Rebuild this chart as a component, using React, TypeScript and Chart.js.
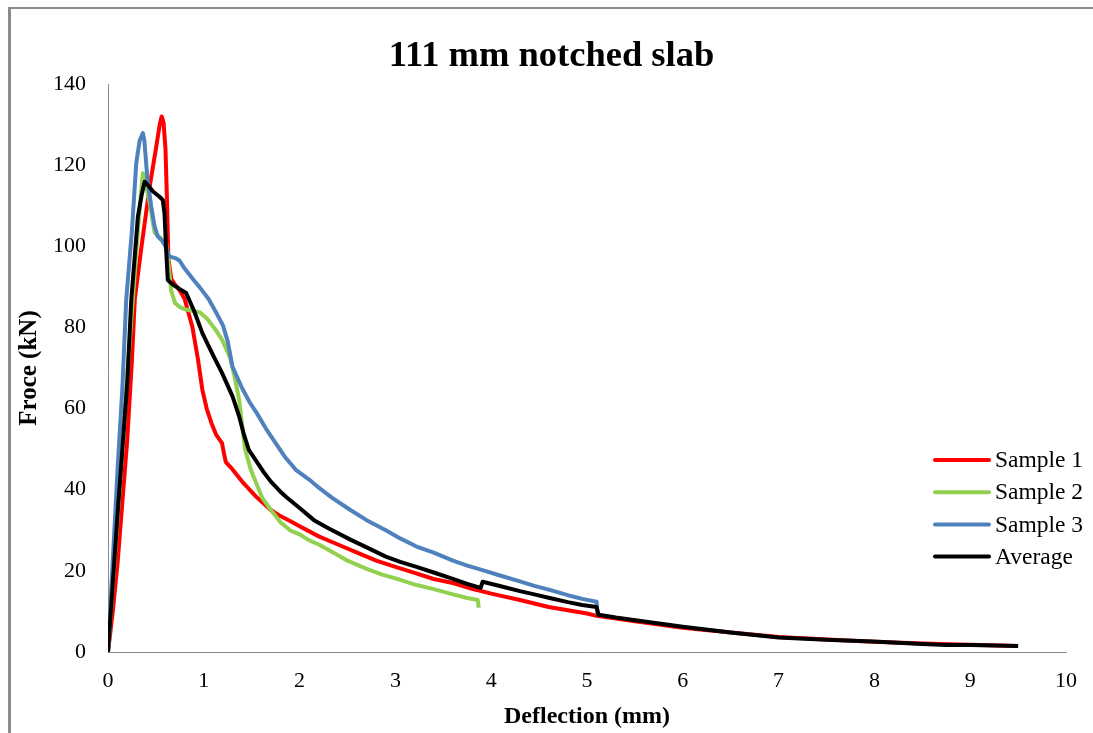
import React, { useEffect, useRef } from "react";
import { Chart, registerables } from "chart.js";

Chart.register(...registerables);

const chartTitle = "111 mm notched slab";
const xAxisTitle = "Deflection (mm)";
const yAxisTitle = "Froce (kN)";
const seriesNames = ["Sample 1", "Sample 2", "Sample 3", "Average"];
const seriesColors = ["#FF0000", "#92D050", "#4F81BD", "#000000"];

const s1X = [0, 0.05, 0.1, 0.15, 0.2, 0.25, 0.28, 0.35, 0.435, 0.5, 0.54, 0.56, 0.58, 0.6, 0.615, 0.63, 0.66, 0.7, 0.746, 0.8, 0.881, 0.94, 0.985, 1.03, 1.08, 1.13, 1.19, 1.21, 1.23, 1.3, 1.4, 1.55, 1.7, 1.8, 1.9, 2.0, 2.2, 2.4, 2.6, 2.8, 3.0, 3.2, 3.4, 3.6, 3.8, 4.0, 4.3, 4.6, 5.0, 5.1, 5.5, 6.0, 6.5, 7.0, 7.5, 8.0, 8.5, 9.0, 9.5];
const s1Y = [0, 10, 22, 37, 52, 72, 87, 100, 114.7, 124, 130, 132, 130.5, 124, 112, 97, 92, 90.5, 89.2, 87, 80.1, 72, 64.6, 60, 56.4, 53.5, 51.5, 49, 46.8, 45, 42, 38.2, 35, 33.5, 32.3, 31, 28.5, 26.5, 24.5, 22.5, 21, 19.5, 18, 17, 15.6, 14.4, 12.8, 11.1, 9.5, 8.9, 7.6, 6.0, 4.8, 3.7, 3.1, 2.5, 2.1, 1.8, 1.5];

const s2X = [0, 0.1, 0.2, 0.3, 0.34, 0.364, 0.39, 0.44, 0.486, 0.55, 0.607, 0.63, 0.66, 0.7, 0.75, 0.8, 0.9, 0.96, 1.04, 1.12, 1.19, 1.27, 1.32, 1.37, 1.43, 1.49, 1.54, 1.61, 1.7, 1.8, 1.9, 2.0, 2.1, 2.2, 2.35, 2.5, 2.7, 2.87, 3.05, 3.22, 3.4, 3.6, 3.75, 3.86, 3.87];
const s2Y = [0, 33, 68, 100, 112, 118, 116, 110, 103.4, 102, 100.7, 96, 89, 86, 85, 84.5, 84, 83.7, 82, 79.5, 77, 72.8, 68, 62, 50, 45, 42, 38, 35, 32, 30, 29, 27.5, 26.5, 24.5, 22.5, 20.5, 19, 17.8, 16.5, 15.5, 14.2, 13.3, 12.8, 10.9];

const s3X = [0, 0.1, 0.15, 0.19, 0.25, 0.295, 0.33, 0.364, 0.38, 0.41, 0.45, 0.486, 0.52, 0.56, 0.6, 0.64, 0.71, 0.746, 0.8, 0.9, 0.954, 1.05, 1.13, 1.2, 1.25, 1.3, 1.4, 1.48, 1.55, 1.65, 1.75, 1.85, 1.96, 2.1, 2.2, 2.34, 2.53, 2.7, 2.9, 3.05, 3.22, 3.4, 3.6, 3.75, 3.91, 4.1, 4.3, 4.45, 4.61, 4.8, 4.95, 5.1, 5.11];
const s3Y = [0, 45, 65, 86.8, 104, 120.5, 126, 127.9, 126, 117, 110, 105, 102.4, 101.5, 100, 97.5, 97, 96.5, 94.5, 91.5, 90, 87, 83.6, 80.5, 76.5, 70.3, 65, 61.5, 59, 55, 51.5, 48, 44.9, 42.5, 40.5, 38, 35, 32.5, 30, 28, 26, 24.5, 22.5, 21.3, 20.2, 18.8, 17.4, 16.3, 15.3, 14, 13.1, 12.4, 9.1];

const avgX = [0, 0.1, 0.2, 0.243, 0.312, 0.35, 0.382, 0.42, 0.47, 0.538, 0.572, 0.59, 0.605, 0.624, 0.68, 0.746, 0.816, 0.9, 0.985, 1.1, 1.19, 1.3, 1.37, 1.42, 1.47, 1.55, 1.62, 1.7, 1.8, 1.86, 2.0, 2.15, 2.3, 2.53, 2.7, 2.9, 3.05, 3.22, 3.4, 3.6, 3.75, 3.89, 3.91, 4.1, 4.3, 4.45, 4.61, 4.8, 4.95, 5.1, 5.12, 5.3, 5.6, 6.0, 6.5, 7.0, 7.5, 8.04, 8.5, 8.74, 9.0, 9.5];
const avgY = [0, 34, 66, 86.8, 107.3, 112.5, 115.9, 115, 113.5, 112.2, 111.4, 108, 100, 91.7, 90.5, 89.5, 88.5, 84, 78.6, 73, 68.8, 63, 58, 53.5, 49.8, 47, 44.5, 42, 39.5, 38.2, 35.5, 32.5, 30.5, 27.7, 25.8, 23.5, 22.2, 21, 19.6, 18, 16.8, 15.8, 17.3, 16.2, 15, 14.2, 13.3, 12.3, 11.6, 11.1, 9.2, 8.5, 7.5, 6.2, 4.8, 3.6, 3.0, 2.5, 2.0, 1.7, 1.7, 1.5];

const xTicksMin = 0;
const xTicksMax = 10;
const xTickStep = 1;
const yTicksMin = 0;
const yTicksMax = 140;
const yTickStep = 20;

const seriesX = [s1X, s2X, s3X, avgX];
const seriesY = [s1Y, s2Y, s3Y, avgY];

const serif = "'Liberation Serif', 'Times New Roman', serif";

const titlePlugin = {
  id: "customTitle",
  afterDraw(chart: any) {
    const { ctx } = chart;
    ctx.save();
    ctx.fillStyle = "#000";
    ctx.font = `bold 36.5px ${serif}`;
    ctx.textAlign = "center";
    ctx.textBaseline = "alphabetic";
    ctx.fillText(chartTitle, chart.width / 2 + 5, 66);
    ctx.restore();
  },
};

const legendPlugin = {
  id: "customLegend",
  afterDraw(chart: any) {
    const { ctx, chartArea } = chart;
    const x1 = chartArea.right - 131;
    const x2 = chartArea.right - 77;
    const y0 = chartArea.top + 376;
    const gap = 32.2;
    ctx.save();
    chart.data.datasets.forEach((ds: any, i: number) => {
      const y = y0 + i * gap;
      ctx.beginPath();
      ctx.strokeStyle = ds.borderColor;
      ctx.lineWidth = 4;
      ctx.lineCap = "round";
      ctx.moveTo(x1, y);
      ctx.lineTo(x2, y);
      ctx.stroke();
      ctx.fillStyle = "#000";
      ctx.font = `23.5px ${serif}`;
      ctx.textBaseline = "middle";
      ctx.textAlign = "left";
      ctx.fillText(ds.label, x2 + 6, y + 1);
    });
    ctx.restore();
  },
};

export default function App() {
  const ref = useRef<HTMLCanvasElement | null>(null);
  useEffect(() => {
    if (!ref.current) return;
    const datasets = seriesNames.map((name, i) => ({
      label: name,
      data: seriesX[i].map((x, j) => ({ x, y: seriesY[i][j] })),
      borderColor: seriesColors[i],
      backgroundColor: seriesColors[i],
      borderWidth: 4,
      pointRadius: 0,
      tension: 0,
      fill: false,
      order: seriesNames.length - 1 - i,
      borderJoinStyle: "round" as const,
    }));
    const chart = new Chart(ref.current, {
      type: "line",
      data: { datasets },
      options: {
        responsive: false,
        animation: false,
        events: [],
        layout: { padding: { left: 0, right: 24, top: 84, bottom: 0 } },
        plugins: {
          legend: { display: false },
          tooltip: { enabled: false },
          title: { display: false },
        },
        scales: {
          x: {
            type: "linear",
            min: xTicksMin,
            max: xTicksMax,
            ticks: { stepSize: xTickStep, color: "#000", font: { family: serif, size: 22 }, padding: 16, maxRotation: 0 },
            grid: { display: false, drawTicks: false },
            border: { display: true, color: "#8a8a8a", width: 1 },
            title: { display: true, text: xAxisTitle, color: "#000", font: { family: serif, size: 24, weight: "bold" }, padding: { top: 0, bottom: 2 } },
            afterFit: (scale: any) => { scale.height = 81; },
          },
          y: {
            type: "linear",
            min: yTicksMin,
            max: yTicksMax,
            ticks: { stepSize: yTickStep, color: "#000", font: { family: serif, size: 22 }, padding: 22 },
            grid: { display: false, drawTicks: false },
            border: { display: true, color: "#8a8a8a", width: 1 },
            title: { display: true, text: yAxisTitle, color: "#000", font: { family: serif, size: 25, weight: "bold" }, padding: { top: 15, bottom: 0 } },
            afterFit: (scale: any) => { scale.width = 108; },
          },
        },
      },
      plugins: [titlePlugin, legendPlugin],
    });
    return () => chart.destroy();
  }, []);

  return (
    <div style={{ position: "fixed", left: 0, top: 0, width: 1093, height: 733, overflow: "hidden", background: "#fff" }}>
      <div style={{ position: "absolute", left: 8, top: 7, width: 1085, height: 726, borderLeft: "3px solid #8c8c8c", borderTop: "2px solid #8c8c8c", boxSizing: "border-box" }} />
      <canvas ref={ref} width={1093} height={733} style={{ position: "absolute", left: 0, top: 0, display: "block" }} />
    </div>
  );
}
